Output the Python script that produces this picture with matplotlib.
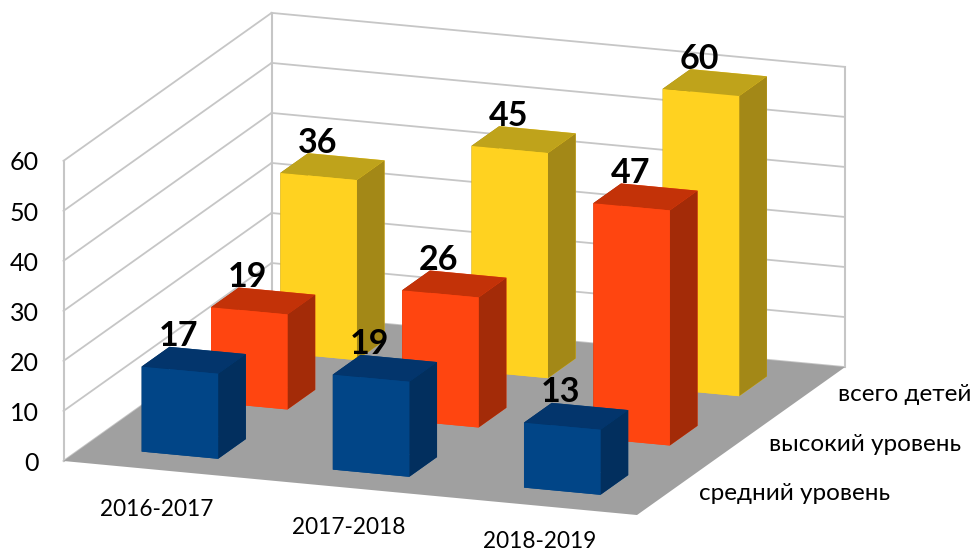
import matplotlib
matplotlib.use("Agg")
import matplotlib.pyplot as plt
from mpl_toolkits.mplot3d import proj3d
from mpl_toolkits.mplot3d.art3d import Poly3DCollection

plt.rcParams['font.family'] = ['Lato', 'DejaVu Sans']

years = ['2016-2017', '2017-2018', '2018-2019']
series = ['средний уровень', 'высокий уровень', 'всего детей']
medium = [17, 19, 13]
high = [19, 26, 47]
total = [36, 45, 60]
zticks = [0, 10, 20, 30, 40, 50, 60]

values = [medium, high, total]
# face order of bar3d: bottom, top, front, back, left, right
palettes = [
    ('#014587', '#03356C', '#022F5E'),
    ('#FF4510', '#C33208', '#A32B08'),
    ('#FFD220', '#BFA31B', '#A38817'),
]
BAR = 0.4
GRID = '#C6C6C6'
FLOOR = '#A0A0A0'
W_PX, H_PX = 971, 553

fig = plt.figure(figsize=(W_PX / 100, H_PX / 100), dpi=100, facecolor='white')
ax = fig.add_axes([0, 0, 1, 1], projection='3d', computed_zorder=False)
ax.set_proj_type('ortho')
ax.view_init(elev=15, azim=-70)
nx, ny, zmax = len(years), len(series), zticks[-1]
ax.set_xlim(0, nx, view_margin=0)
ax.set_ylim(0, ny, view_margin=0)
ax.set_zlim(0, zmax, view_margin=0)
ax.set_box_aspect((610, 608, 310.6))
ax.set_xticks([])
ax.set_yticks([])
ax.set_zticks([])
ax.set_axis_off()
ax.patch.set_alpha(0)

# walls
for z in zticks:
    ax.plot([0, 0], [0, ny], [z, z], color=GRID, lw=1.3, zorder=1)
    ax.plot([0, nx], [ny, ny], [z, z], color=GRID, lw=1.3, zorder=1)
for x, y in [(0, 0), (0, ny), (nx, ny)]:
    ax.plot([x, x], [y, y], [0, zmax], color=GRID, lw=1.5, zorder=1)

# floor
ax.add_collection3d(Poly3DCollection(
    [[(0, 0, 0), (nx, 0, 0), (nx, ny, 0), (0, ny, 0)]],
    facecolors=FLOOR, edgecolors='none', zorder=2))

# bars, back row first
order = 3
for j in reversed(range(ny)):
    front, top, side = palettes[j]
    for i in range(nx):
        ax.bar3d(i + 0.5 - BAR / 2, j + 0.5 - BAR / 2, 0, BAR, BAR, values[j][i],
                 color=[front, top, front, front, side, side], shade=False,
                 linewidth=0.3, edgecolor=None, zorder=order)
        order += 1


def pix(x, y, z):
    px, py, _ = proj3d.proj_transform(x, y, z, ax.get_proj())
    return ax.transData.transform((px, py))


# fit the box onto the figure: front edge from (63.5, 461) to (637, 515)
w = 1.0
pos = [0.0, 0.0]
for _ in range(3):
    ax.set_position([pos[0] / W_PX, pos[1] / H_PX, w, w * W_PX / H_PX])
    ax.apply_aspect()
    fig.canvas.draw()
    a, b = pix(0, 0, 0), pix(nx, 0, 0)
    w *= 573.5 / (b[0] - a[0])
    ax.set_position([pos[0] / W_PX, pos[1] / H_PX, w, w * W_PX / H_PX])
    ax.apply_aspect()
    fig.canvas.draw()
    a = pix(0, 0, 0)
    pos[0] += 63.5 - a[0]
    pos[1] += (H_PX - 461) - a[1]
ax.set_position([pos[0] / W_PX, pos[1] / H_PX, w, w * W_PX / H_PX])
ax.apply_aspect()
fig.canvas.draw()


def label(x, y, z, s, **kw):
    p = pix(x, y, z)
    fig.text(p[0] / W_PX, p[1] / H_PX, s, color='black', va='center', **kw)


# texts, anchored on the projected data positions
for j in range(ny):
    for i in range(nx):
        label(i + 0.5 - 0.08, j + 0.5, values[j][i] + 4.5, str(values[j][i]),
              ha='center', fontsize=24.5, fontweight='bold')
for z in zticks:
    label(-0.13, 0, z - 0.9, str(z), ha='right', fontsize=18)
year_drop = [-7.9, -7.9, -7.2]
for i, name in enumerate(years):
    label(i + 0.49, 0, year_drop[i], name, ha='center', fontsize=16.3)
for j, name in enumerate(series):
    label(nx + 0.145, j + 0.5, -0.1, name, ha='left', fontsize=17.5)

fig.savefig('out.png', dpi=100, facecolor='white')
